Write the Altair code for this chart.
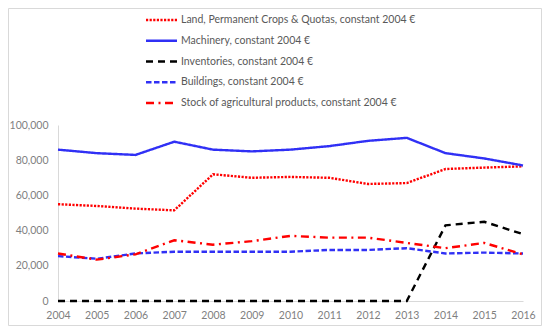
import altair as alt
import pandas as pd

years = list(range(2004, 2017))
series_names = [
    "Land, Permanent Crops & Quotas, constant 2004 €",
    "Machinery, constant 2004 €",
    "Inventories, constant 2004 €",
    "Buildings, constant 2004 €",
    "Stock of agricultural products, constant 2004 €",
]
land = [55000, 54000, 52500, 51500, 72000, 70000, 70500, 70000, 66500, 67000, 75000, 75800, 76500]
machinery = [86000, 84000, 83000, 90500, 86000, 85000, 86000, 88000, 91000, 92700, 84000, 81000, 77000]
inventories = [0, 0, 0, 0, 0, 0, 0, 0, 0, 0, 43000, 45000, 38000]
buildings = [25500, 24000, 27000, 28000, 28000, 28000, 28000, 29000, 29000, 30000, 27000, 27500, 27000]
stock = [27000, 23500, 26500, 34500, 32000, 34000, 37000, 36000, 36000, 33000, 30000, 33000, 26500]
y_ticks = [0, 20000, 40000, 60000, 80000, 100000]

colors = ["#FF0000", "#3030F5", "#000000", "#3030F5", "#FF0000"]
dashes = [[2.2, 1.4], [1, 0], [7, 5], [5.5, 2.5], [8, 4.5, 2, 4.5]]

rows = []
for name, vals in zip(series_names, [land, machinery, inventories, buildings, stock]):
    for y, v in zip(years, vals):
        rows.append({"Year": y, "Value": v, "Series": name})
df = pd.DataFrame(rows)
legend_df = pd.DataFrame({"Series": series_names, "idx": list(range(len(series_names)))})

font = "Lato"
label_gray = "#7f7f7f"

color_enc = alt.Color("Series:N", scale=alt.Scale(domain=series_names, range=colors), legend=None)
dash_enc = alt.StrokeDash("Series:N", scale=alt.Scale(domain=series_names, range=dashes), legend=None)

lines = alt.Chart(df).mark_line(strokeWidth=2.4).encode(
    x=alt.X("Year:Q", scale=alt.Scale(domain=[2004, 2016], nice=False),
            axis=alt.Axis(title=None, values=years, labelExpr="'' + datum.value",
                          labelOverlap=False, labelFlush=False, grid=False, ticks=False,
                          domain=True, domainColor="#d9d9d9", labelColor=label_gray,
                          labelFontSize=10.5, labelFont=font, labelPadding=9)),
    y=alt.Y("Value:Q", scale=alt.Scale(domain=[0, 100000], nice=False),
            axis=alt.Axis(title=None, values=y_ticks,
                          labelExpr="datum.value == 0 ? '0' : floor(datum.value / 1000) + ',000'",
                          labelOverlap=False, labelFlush=False, grid=False, ticks=False, domain=True,
                          domainColor="#d9d9d9",
                          labelColor=label_gray, labelFontSize=10.5, labelFont=font, labelPadding=10)),
    color=color_enc,
    strokeDash=dash_enc,
    detail="Series:N",
)

leg_y = alt.Y("idx:Q", scale=alt.Scale(domain=[0, 4], range=[-105, -22]), axis=None)

legend_lines = alt.Chart(legend_df).mark_rule(strokeWidth=2.4).encode(
    x=alt.value(88), x2=alt.value(119), y=leg_y, color=color_enc, strokeDash=dash_enc,
)
legend_text = alt.Chart(legend_df).mark_text(
    align="left", baseline="middle", font=font, fontSize=10.5, color="#595959"
).encode(x=alt.value(123), y=leg_y, text="Series:N")

border = alt.Chart(pd.DataFrame({"a": [0]})).mark_rect(
    fillOpacity=0, stroke="#d9d9d9", strokeWidth=1
).encode(x=alt.value(-49.5), x2=alt.value(483.5), y=alt.value(-116.5), y2=alt.value(200.5))

chart = alt.layer(border, lines, legend_lines, legend_text).resolve_scale(
    y="independent"
).properties(
    width=465, height=176,
    autosize=alt.AutoSizeParams(type="none"),
    padding={"left": 50, "top": 117, "right": 19, "bottom": 25},
    background="white",
).configure_view(stroke=None)

chart.save("out.html", embed_options={"renderer": "svg", "actions": False})
